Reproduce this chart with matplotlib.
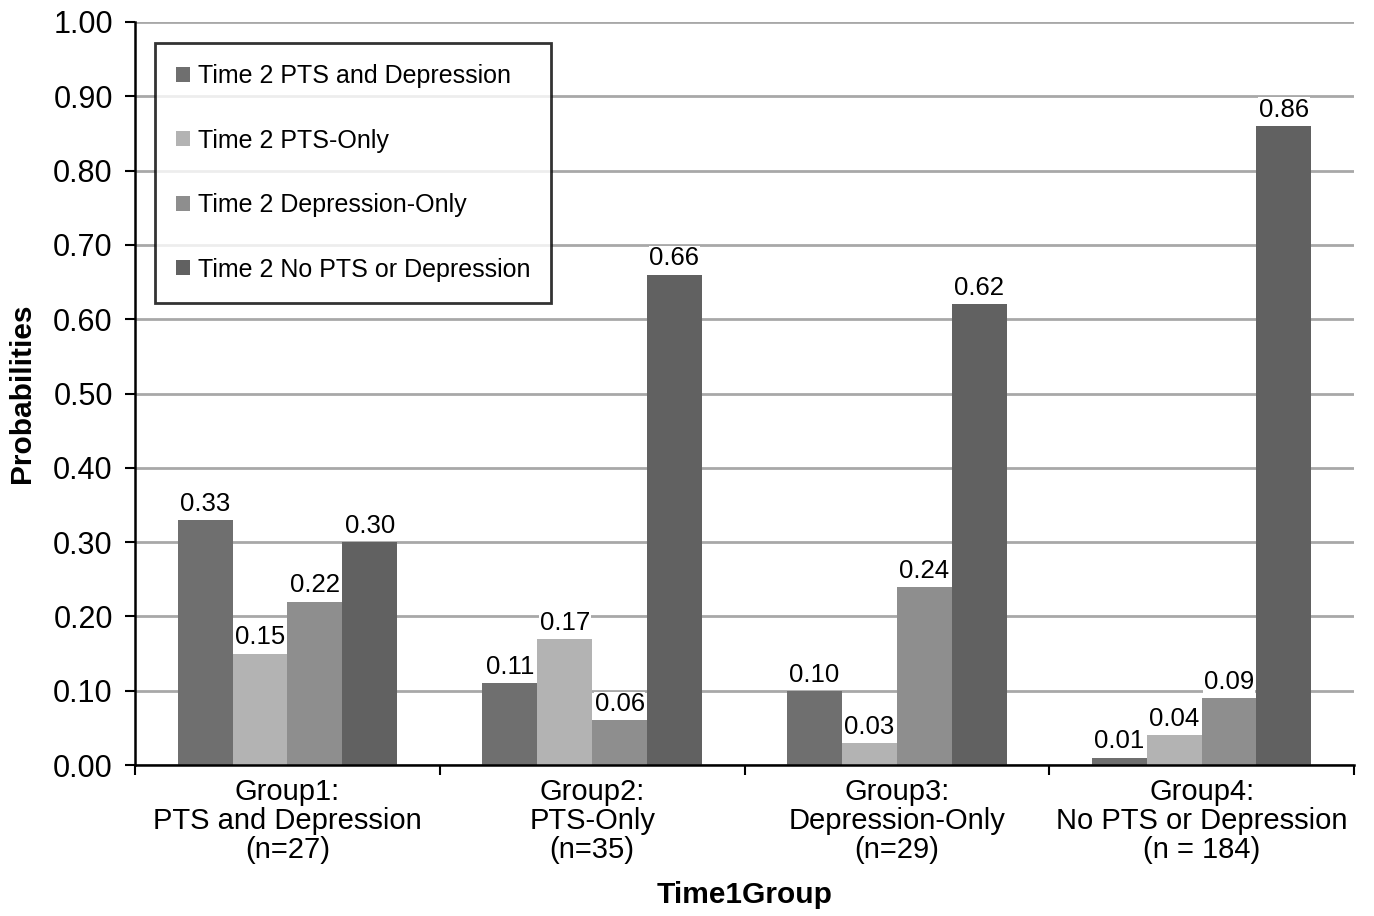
import numpy as np
import matplotlib.pyplot as plt
from matplotlib.patches import Patch

plt.rcParams['font.family'] = ['Liberation Sans', 'DejaVu Sans']

groups = ["Group1:\nPTS and Depression\n(n=27)",
          "Group2:\nPTS-Only\n(n=35)",
          "Group3:\nDepression-Only\n(n=29)",
          "Group4:\nNo PTS or Depression\n(n = 184)"]
series_names = ["Time 2 PTS and Depression", "Time 2 PTS-Only",
                "Time 2 Depression-Only", "Time 2 No PTS or Depression"]
pts_dep = [0.33, 0.11, 0.10, 0.01]
pts_only = [0.15, 0.17, 0.03, 0.04]
dep_only = [0.22, 0.06, 0.24, 0.09]
no_pts_dep = [0.30, 0.66, 0.62, 0.86]
colors = ["#6f6f6f", "#b3b3b3", "#8e8e8e", "#616161"]

fig = plt.figure(figsize=(13.74, 9.16), dpi=100)
ax = fig.add_axes([0.0983, 0.1648, 0.8871, 0.8112])

x = np.arange(len(groups)) + 0.5
width = 0.18
offsets = [-1.5, -0.5, 0.5, 1.5]

for vals, off, col in zip([pts_dep, pts_only, dep_only, no_pts_dep], offsets, colors):
    bars = ax.bar(x + off * width, vals, width, color=col, zorder=2)
    for b, v in zip(bars, vals):
        ax.annotate(f"{v:.2f}", (b.get_x() + b.get_width() / 2, v),
                    xytext=(0, 3), textcoords="offset points",
                    ha="center", va="bottom", fontsize=18.5, zorder=3,
                    bbox=dict(facecolor="white", edgecolor="none", pad=0.5))

ax.set_xlim(0, 4)
ax.set_ylim(0, 1.0)
ax.set_yticks(np.arange(0, 1.01, 0.1))
ax.set_yticklabels([f"{t:.2f}" for t in np.arange(0, 1.01, 0.1)], fontsize=22)
ax.yaxis.grid(True, color="#a8a8a8", lw=2, zorder=0)
ax.set_axisbelow(True)

ax.set_xticks(np.arange(0, 5), minor=False)
ax.set_xticklabels([])
ax.set_xticks(x, minor=True)
ax.set_xticklabels(groups, minor=True, fontsize=21, linespacing=1.06)
ax.tick_params(axis="x", which="minor", length=0, pad=9)
ax.tick_params(axis="x", which="major", length=7, width=1.5, direction="out")
ax.tick_params(axis="y", length=7, width=1.5, direction="out", pad=9)

for s in ["top", "right"]:
    ax.spines[s].set_visible(False)
for s in ["left", "bottom"]:
    ax.spines[s].set_linewidth(1.8)

ax.set_ylabel("Probabilities", fontsize=21.5, fontweight="bold", labelpad=12)
ax.set_xlabel("Time1Group", fontsize=21.5, fontweight="bold", labelpad=12)

handles = [Patch(facecolor=c, edgecolor="none") for c in colors]
leg = ax.legend(handles, series_names, loc="upper left",
                bbox_to_anchor=(0.0164, 0.9717), borderaxespad=0,
                fontsize=18, frameon=True, fancybox=False,
                handlelength=0.55, handleheight=0.55, handletextpad=0.3,
                labelspacing=1.62, borderpad=0.85)
leg.get_frame().set_edgecolor("black")
leg.get_frame().set_linewidth(2)
leg.set_zorder(5)

fig.savefig("out.png", dpi=100)
